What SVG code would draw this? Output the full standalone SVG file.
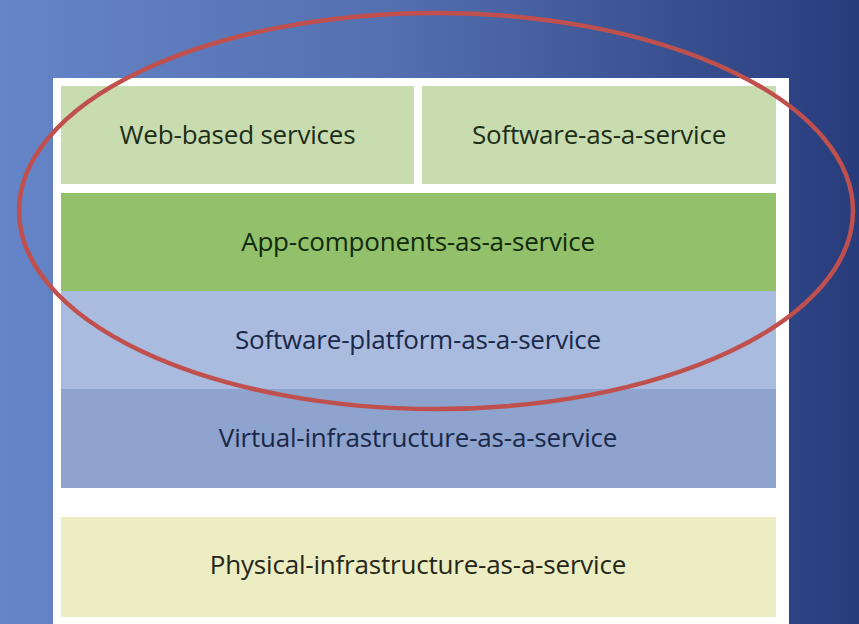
<svg xmlns="http://www.w3.org/2000/svg" width="859" height="624" viewBox="0 0 859 624">
<defs>
<linearGradient id="bg" x1="0" y1="0" x2="1" y2="0">
<stop offset="0" stop-color="#6585c8"/>
<stop offset="0.45" stop-color="#5470b0"/>
<stop offset="1" stop-color="#283c7c"/>
</linearGradient>
<style>
.lbl{font-family:"Open Sans","Noto Sans","Liberation Sans",sans-serif;font-size:26px;text-anchor:middle;letter-spacing:-0.2px}
</style>
</defs>
<rect x="0" y="0" width="859" height="624" fill="url(#bg)"/>
<rect x="53" y="78" width="736" height="546" fill="#ffffff"/>
<g id="web-based-services">
<rect x="61" y="86" width="353" height="98" fill="#c8dcb0"/>
<text class="lbl" x="237.5" y="144" fill="#1c2e18">Web-based services</text>
</g>
<g id="software-as-a-service">
<rect x="422" y="86" width="354" height="98" fill="#c8dcb0"/>
<text class="lbl" x="599" y="144" fill="#1c2e18">Software-as-a-service</text>
</g>
<g id="app-components">
<rect x="61" y="193" width="715" height="98" fill="#93c06a"/>
<text class="lbl" x="418" y="251" fill="#0f2a0c">App-components-as-a-service</text>
</g>
<g id="software-platform">
<rect x="61" y="291" width="715" height="98" fill="#a9bbdf"/>
<text class="lbl" x="418" y="349" fill="#1a2848">Software-platform-as-a-service</text>
</g>
<g id="virtual-infrastructure">
<rect x="61" y="389" width="715" height="99" fill="#8fa3cf"/>
<text class="lbl" x="418" y="447" fill="#1a2848">Virtual-infrastructure-as-a-service</text>
</g>
<g id="physical-infrastructure">
<rect x="61" y="517" width="715" height="100" fill="#ecedc3"/>
<text class="lbl" x="418" y="574" fill="#262618">Physical-infrastructure-as-a-service</text>
</g>
<g id="highlight">
<ellipse cx="436" cy="211" rx="417" ry="198" fill="none" stroke="#c0504d" stroke-width="4.5"/>
</g>
</svg>
